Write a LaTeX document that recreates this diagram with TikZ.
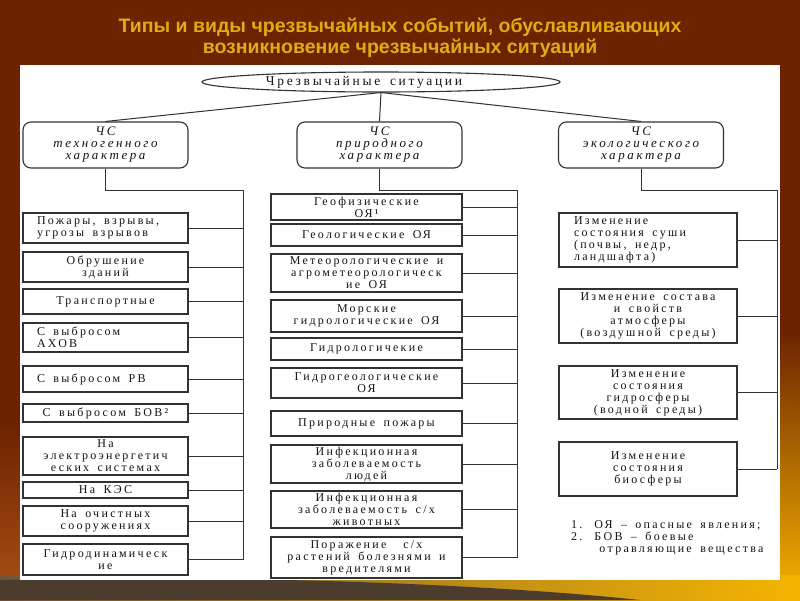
\documentclass[tikz,border=0pt]{standalone}
\usepackage{fontspec}
\usetikzlibrary{shapes.geometric}
\setmainfont{Liberation Serif}
\newfontfamily\boxfont[LetterSpace=19,WordSpace=1.6]{Liberation Serif}
\newfontfamily\headfont[LetterSpace=20,WordSpace=1.6]{Liberation Serif}
\newfontfamily\sitfont[LetterSpace=20,WordSpace=1.6]{Liberation Serif}
\newfontfamily\titlefont{Liberation Sans}
\newcommand\padline[2]{\makebox[#1][l]{#2}}
\definecolor{bgred}{RGB}{107,35,0}
\definecolor{glowbrown}{RGB}{170,80,20}
\definecolor{glowred}{RGB}{200,90,10}
\definecolor{glowyellow}{RGB}{245,180,0}
\definecolor{swoosh}{RGB}{75,60,45}
\definecolor{swooshlight}{RGB}{110,85,60}
\definecolor{titlegold}{RGB}{222,172,22}
\definecolor{linegray}{RGB}{50,50,50}
\definecolor{textgray}{RGB}{20,20,20}
\tikzset{
  box/.style={draw=linegray, line width=1.1pt, fill=white, inner sep=0pt, text=textgray,
    font=\boxfont\fontsize{12}{12}\selectfont},
  tbox/.style={box, minimum width=165pt},
  nbox/.style={box, minimum width=191pt, align=center},
  ebox/.style={box, minimum width=178pt},
  head/.style={draw=linegray, line width=1.1pt, rounded corners=8pt, minimum width=165pt,
    minimum height=46pt, inner sep=0pt, align=center, text=textgray,
    font=\headfont\itshape\fontsize{13}{12}\selectfont},
  sitnode/.style={ellipse, draw=linegray, line width=1.1pt, minimum width=358pt,
    minimum height=20pt, inner sep=0pt, text=textgray,
    font=\sitfont\fontsize{13.5}{12}\selectfont},
  titletext/.style={text=titlegold, inner sep=0pt,
    font=\titlefont\bfseries\fontsize{19.5}{21}\selectfont},
  fnote/.style={inner sep=0pt, text=textgray, font=\boxfont\fontsize{12}{12}\selectfont},
  link/.style={draw=linegray, line width=1pt}
}

\begin{document}
\lineskiplimit=-6pt
\begin{tikzpicture}[x=1pt,y=-1pt]
\useasboundingbox (0,0) rectangle (800,600);
% background
\fill[bgred] (0,0) rectangle (800,600);
\shade[top color=bgred, bottom color=glowbrown] (0,420) rectangle (20,600);
\shade[top color=bgred, middle color=glowred, bottom color=glowyellow] (780,330) rectangle (800,600);
\shade[left color=swooshlight, right color=glowyellow] (0,575) rectangle (800,600);
\fill[swoosh] (0,600) -- (0,580) .. controls (250,574) and (500,585) .. (640,600) -- cycle;
\fill[white] (20,65) rectangle (780,580);
% title
\node[titletext, anchor=base] (title1) at (400,32) {Типы и виды чрезвычайных событий, обуславливающих};
\node[titletext, anchor=base] (title2) at (400,53) {возникновение чрезвычайных ситуаций};
% top levels
\node[sitnode] (cs) at (381,82) {Чрезвычайные ситуации\rule{34pt}{0pt}};
\node[head] (tech) at (105.5,145) {ЧС\\техногенного\\характера};
\node[head] (nat) at (379.5,145) {ЧС\\природного\\характера};
\node[head] (eco) at (641,145) {ЧС\\экологического\\характера};
\foreach \h in {tech,nat,eco}{
\draw[link] (cs.south) -- (\h.north);
}
% technogenic
\node[tbox, align=left, minimum height=30pt] (t1) at (105.5,228) {\padline{137pt}{Пожары, взрывы,}\\угрозы взрывов};
\node[tbox, align=center, minimum height=30pt] (t2) at (105.5,267) {Обрушение\\зданий};
\node[tbox, align=center, minimum height=25pt] (t3) at (105.5,301.5) {Транспортные};
\node[tbox, align=left, minimum height=29pt] (t4) at (105.5,337.5) {\padline{137pt}{С выбросом}\\АХОВ};
\node[tbox, align=left, minimum height=26pt] (t5) at (105.5,379) {\padline{137pt}{С выбросом РВ}};
\node[tbox, align=center, minimum height=18pt] (t6) at (105.5,413) {С выбросом БОВ²};
\node[tbox, align=center, minimum height=38pt] (t7) at (105.5,456) {На\\электроэнергетич\\еских системах};
\node[tbox, align=center, minimum height=16pt] (t8) at (105.5,490) {На КЭС};
\node[tbox, align=center, minimum height=30pt] (t9) at (105.5,521) {На очистных\\сооружениях};
\node[tbox, align=center, minimum height=31pt] (t10) at (105.5,559.5) {Гидродинамическ\\ие};
\coordinate (tbus) at (243,190);
\draw[link] (tech.south) |- (tbus) -- (tbus |- t10.east);
\foreach \i in {1,...,10}{
\draw[link] (t\i.east) -- (tbus |- t\i.east);
}
% natural
\node[nbox, minimum height=26pt] (n1) at (366.5,207) {Геофизические\\ОЯ¹};
\node[nbox, minimum height=22pt] (n2) at (366.5,235) {Геологические ОЯ};
\node[nbox, minimum height=38pt] (n3) at (366.5,273) {Метеорологические и\\агрометеорологическ\\ие ОЯ};
\node[nbox, minimum height=32pt] (n4) at (366.5,316) {Морские\\гидрологические ОЯ};
\node[nbox, minimum height=22pt] (n5) at (366.5,349) {Гидрологичекие};
\node[nbox, minimum height=30pt] (n6) at (366.5,383) {Гидрогеологические\\ОЯ};
\node[nbox, minimum height=25pt] (n7) at (366.5,423.5) {Природные пожары};
\node[nbox, minimum height=38pt] (n8) at (366.5,464) {Инфекционная\\заболеваемость\\людей};
\node[nbox, minimum height=37pt] (n9) at (366.5,509.5) {Инфекционная\\заболеваемость с/х\\животных};
\node[nbox, minimum height=41pt] (n10) at (366.5,557.5) {Поражение\ \ с/х\\растений болезнями и\\вредителями};
\coordinate (nbus) at (517,190);
\draw[link] (nat.south) |- (nbus) -- (nbus |- n10.east);
\foreach \i in {1,...,10}{
\draw[link] (n\i.east) -- (nbus |- n\i.east);
}
% ecological
\node[ebox, align=left, minimum height=54pt] (e1) at (648,240) {\padline{148pt}{Изменение}\\состояния суши\\(почвы, недр,\\ландшафта)};
\node[ebox, align=center, minimum height=54pt] (e2) at (648,316) {Изменение состава\\и свойств\\атмосферы\\(воздушной среды)};
\node[ebox, align=center, minimum height=53pt] (e3) at (648,392.5) {Изменение\\состояния\\гидросферы\\(водной среды)};
\node[ebox, align=center, minimum height=54pt] (e4) at (648,469) {Изменение\\состояния\\биосферы};
\coordinate (ebus) at (777,190);
\draw[link] (eco.south) |- (ebus) -- (ebus |- e4.east);
\foreach \i in {1,...,4}{
\draw[link] (e\i.east) -- (ebus |- e\i.east);
}
% notes
\node[fnote, anchor=north west] (notes) at (571,520) {\begin{tabular}{@{}l@{\hspace{12pt}}l@{}}1. & ОЯ – опасные явления;\\2. & БОВ – боевые\\ & \hspace{5pt}отравляющие вещества\end{tabular}};
\end{tikzpicture}
\end{document}
